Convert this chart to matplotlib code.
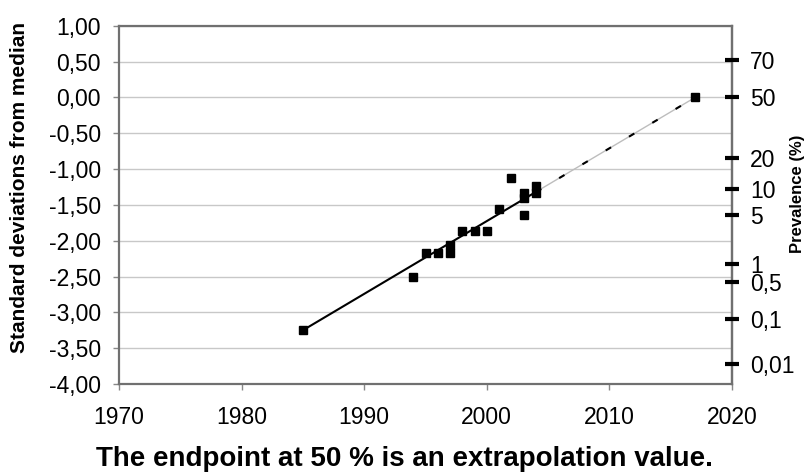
import numpy as np
import matplotlib
matplotlib.use("Agg")
import matplotlib.pyplot as plt

plt.rcParams['font.family'] = ['Liberation Sans', 'DejaVu Sans']

# Observed data (year, standard deviations from median)
years = [1985, 1994, 1995, 1996, 1997, 1997, 1998, 1999, 2000, 2001,
         2002, 2003, 2003, 2003, 2004, 2004]
sd_values = [-3.25, -2.50, -2.17, -2.17, -2.17, -2.06, -1.86, -1.86, -1.86,
             -1.56, -1.12, -1.34, -1.41, -1.64, -1.24, -1.34]
# Extrapolated endpoint (50 % prevalence)
end_year = 2017
end_value = 0.0

# Right axis: prevalence (%) labels and their positions in SD units
prev_labels = ["70", "50", "20", "10", "5", "1", "0,5", "0,1", "0,01"]
prev_positions = [0.52, 0.0, -0.84, -1.28, -1.645, -2.33, -2.575, -3.09, -3.72]

x_ticks = [1970, 1980, 1990, 2000, 2010, 2020]
y_ticks = [1.0, 0.5, 0.0, -0.5, -1.0, -1.5, -2.0, -2.5, -3.0, -3.5, -4.0]

fig = plt.figure(figsize=(8.09, 4.74), dpi=100)
ax = fig.add_axes([119/809, 1-384/474, (732-119)/809, (384-25.7)/474])

ax.set_xlim(1970, 2020)
ax.set_ylim(-4, 1)

# grid
for yv in y_ticks:
    ax.axhline(yv, color='#c8c8c8', lw=1.0, zorder=0)

# regression line: solid over observed range, dashed to extrapolated endpoint
last_obs = max(years)
y_at_last = np.interp(last_obs, [years[0], end_year], [sd_values[0], end_value])
ax.plot([years[0], last_obs], [sd_values[0], y_at_last], color='black', lw=1.5, zorder=2)
ax.plot([last_obs, end_year], [y_at_last, end_value], color='#bdbdbd', lw=1.0, zorder=2)
ax.plot([last_obs, end_year], [y_at_last, end_value], color='black', lw=1.5,
        dashes=(3, 10), zorder=2)

# points
ax.plot(years, sd_values, 's', color='black', ms=6, zorder=3)
ax.plot([end_year], [end_value], 's', color='black', ms=6, zorder=3)

# ticks
ax.set_xticks(x_ticks)
ax.set_xticklabels([str(x) for x in x_ticks])
ax.set_yticks(y_ticks)
ax.set_yticklabels([f"{v:.2f}".replace('.', ',') for v in y_ticks])
ax.tick_params(axis='both', labelsize=16.5, colors='#888888', labelcolor='black')
ax.tick_params(axis='y', length=4, width=1, pad=9)
ax.tick_params(axis='x', length=4, width=1, pad=12)

for sp in ax.spines.values():
    sp.set_color('#707070')
    sp.set_linewidth(1.6)

# right frame line (drawn explicitly so it stays visible under the twin axis)
ax.axvline(ax.get_xlim()[1], color='#707070', lw=1.6, clip_on=False, zorder=2.4)

ax.set_ylabel("Standard deviations from median", fontsize=15, fontweight='bold')
ax.yaxis.set_label_coords(-0.1466, 0.548)

# right prevalence axis
ax2 = ax.twinx()
ax2.set_ylim(-4, 1)
ax2.set_yticks(prev_positions)
ax2.set_yticklabels(prev_labels)
ax2.tick_params(axis='y', direction='inout', length=10, width=3, colors='black',
                labelsize=16.5, pad=8)
for sp in ax2.spines.values():
    sp.set_visible(False)
ax2.set_ylabel("Prevalence (%)", fontsize=12, fontweight='bold', rotation=90)
ax2.yaxis.set_label_coords(1.095, 0.53)

fig.text(0.5, 1-466/474, "The endpoint at 50 % is an extrapolation value.",
         ha='center', va='baseline', fontsize=20, fontweight='bold')

fig.savefig("out.png", dpi=100)
